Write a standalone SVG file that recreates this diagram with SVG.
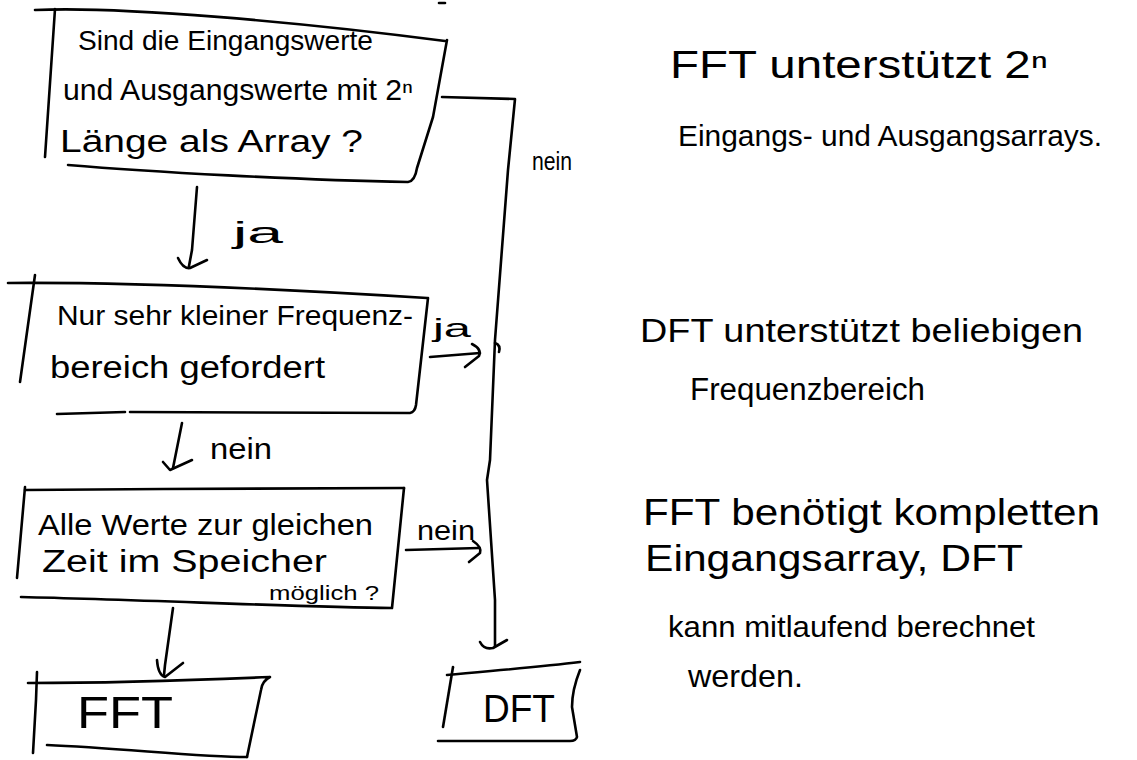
<svg xmlns="http://www.w3.org/2000/svg" width="1137" height="760" viewBox="0 0 1137 760">
<style>
.s{fill:none;stroke:#000;stroke-width:2.6;stroke-linecap:round;stroke-linejoin:round}
text{font-family:"Liberation Sans","DejaVu Sans",sans-serif;fill:#000}
</style>
<rect width="1137" height="760" fill="#fff"/>
<path class="s" d="M439,3 L445,3"/>
<g id="q1">
<path class="s" d="M35,10 C120,6 300,22 445,41"/>
<path class="s" d="M55,9 L45,157"/>
<path class="s" d="M68,165 C150,172 300,180 408,182 Q415,181 417,168 L433,117 L447,40"/>
<text x="78" y="50" font-size="28" textLength="295" lengthAdjust="spacingAndGlyphs">Sind die Eingangswerte</text>
<text x="63" y="100" font-size="29" textLength="350" lengthAdjust="spacingAndGlyphs">und Ausgangswerte mit 2ⁿ</text>
<text x="60" y="152" font-size="31" textLength="303" lengthAdjust="spacingAndGlyphs">Länge als Array ?</text>
</g>
<g id="q2">
<path class="s" d="M8,283 C150,282 300,290 427,298"/>
<path class="s" d="M35,275 L20,382"/>
<path class="s" d="M57,414 L125,412 M130,412 L410,413 Q415,412 416,405 L428,298"/>
<text x="57" y="325" font-size="28" textLength="356" lengthAdjust="spacingAndGlyphs">Nur sehr kleiner Frequenz-</text>
<text x="50" y="378" font-size="31" textLength="275" lengthAdjust="spacingAndGlyphs">bereich gefordert</text>
</g>
<g id="q3">
<path class="s" d="M25,490 C150,489 300,488 404,488"/>
<path class="s" d="M25,487 L17,578"/>
<path class="s" d="M21,597 C150,600 300,607 392,608 L404,488"/>
<text x="38" y="535" font-size="29" textLength="335" lengthAdjust="spacingAndGlyphs">Alle Werte zur gleichen</text>
<text x="42" y="572" font-size="31" textLength="285" lengthAdjust="spacingAndGlyphs">Zeit im Speicher</text>
<text x="269" y="600" font-size="21" textLength="110" lengthAdjust="spacingAndGlyphs">möglich ?</text>
</g>
<g id="fft">
<path class="s" d="M28,683 C120,683 200,680 270,677 Q262,681 261,690 L247,757"/>
<path class="s" d="M37,672 L36,700 L33,753"/>
<path class="s" d="M47,745 C120,748 200,757 247,757"/>
<text x="77" y="728" font-size="44" textLength="96" lengthAdjust="spacingAndGlyphs">FFT</text>
</g>
<g id="dft">
<path class="s" d="M447,675 C500,670 540,667 580,662"/>
<path class="s" d="M453,667 L443,727"/>
<path class="s" d="M580,670 Q572,690 572,707 Q575,725 577,737 Q576,741 570,741 L438,741"/>
<text x="483" y="722" font-size="38" textLength="72" lengthAdjust="spacingAndGlyphs">DFT</text>
</g>
<g id="connectors">
<path class="s" d="M442,97 L515,99 L508,170 L495,340 L490,460 L487,480 L495,600 L495,646"/>
<path class="s" d="M495,343 Q501,345 499,352"/>
<path class="s" d="M480,642 Q484,650 493,648 L507,640"/>
<text x="532" y="170" font-size="25" textLength="40" lengthAdjust="spacingAndGlyphs">nein</text>
<path class="s" d="M197,187 L192,250 L189,266"/>
<path class="s" d="M178,258 Q183,269 190,268 L207,260"/>
<text x="233" y="243" font-size="30" textLength="50" lengthAdjust="spacingAndGlyphs">ja</text>
<path class="s" d="M430,357 L480,353"/>
<path class="s" d="M472,344 Q482,349 479,356 L465,367"/>
<text x="433" y="337" font-size="26" textLength="38" lengthAdjust="spacingAndGlyphs">ja</text>
<path class="s" d="M182,423 L173,468"/>
<path class="s" d="M163,462 L170,470 L192,460"/>
<text x="210" y="459" font-size="30" textLength="62" lengthAdjust="spacingAndGlyphs">nein</text>
<path class="s" d="M406,550 L479,548"/>
<path class="s" d="M473,541 Q482,547 480,553 L469,562"/>
<text x="417" y="540" font-size="28" textLength="58" lengthAdjust="spacingAndGlyphs">nein</text>
<path class="s" d="M173,608 L165,665 L164,675"/>
<path class="s" d="M157,660 Q158,675 165,677 L183,663"/>
</g>
<g id="notes">
<text x="670" y="78" font-size="38" textLength="378" lengthAdjust="spacingAndGlyphs">FFT unterstützt 2ⁿ</text>
<text x="678" y="146" font-size="30" textLength="424" lengthAdjust="spacingAndGlyphs">Eingangs- und Ausgangsarrays.</text>
<text x="640" y="342" font-size="34" textLength="443" lengthAdjust="spacingAndGlyphs">DFT unterstützt beliebigen</text>
<text x="690" y="400" font-size="31" textLength="235" lengthAdjust="spacingAndGlyphs">Frequenzbereich</text>
<text x="643" y="525" font-size="37" textLength="457" lengthAdjust="spacingAndGlyphs">FFT benötigt kompletten</text>
<text x="645" y="571" font-size="37" textLength="378" lengthAdjust="spacingAndGlyphs">Eingangsarray, DFT</text>
<text x="668" y="637" font-size="30" textLength="367" lengthAdjust="spacingAndGlyphs">kann mitlaufend berechnet</text>
<text x="688" y="687" font-size="32" textLength="115" lengthAdjust="spacingAndGlyphs">werden.</text>
</g>
</svg>
